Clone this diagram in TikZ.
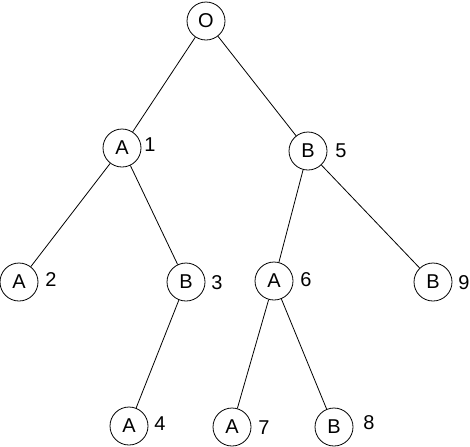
\documentclass[tikz,border=0pt]{standalone}
\usepackage{fontspec}
\setmainfont{Liberation Sans}
\usepackage{tikz}
\tikzset{state/.style={draw, circle, minimum size=19pt, inner sep=0pt}}

\begin{document}
\begin{tikzpicture}[x=0.5pt, y=-0.5pt, thin]
        \useasboundingbox (0,0) rectangle (470,446);

        % 1. Tree nodes
        \node[state] (O)  at (206,21)  {O};
        \node[state] (A1) at (122,148) {A};
        \node[state] (B5) at (308,151) {B};
        \node[state] (A2) at (19,282)  {A};
        \node[state] (B3) at (186,282) {B};
        \node[state] (A6) at (274,281) {A};
        \node[state] (B9) at (433,282) {B};
        \node[state] (A4) at (129,426) {A};
        \node[state] (A7) at (232,427) {A};
        \node[state] (B8) at (334,427) {B};

        % 2. Edges
        \draw (O) -- (A1);
        \draw (O) -- (B5);
        \draw (A1) -- (A2);
        \draw (A1) -- (B3);
        \draw (B3) -- (A4);
        \draw (B5) -- (A6);
        \draw (B5) -- (B9);
        \draw (A6) -- (A7);
        \draw (A6) -- (B8);

        % 3. Visit numbers
        \node (n1) at (150,145) {1};
        \node (n2) at (51,280)  {2};
        \node (n3) at (217,283) {3};
        \node (n4) at (160,424) {4};
        \node (n5) at (341,151) {5};
        \node (n6) at (306,280) {6};
        \node (n7) at (264,428) {7};
        \node (n8) at (369,423) {8};
        \node (n9) at (464,283) {9};
    \end{tikzpicture}
\end{document}
